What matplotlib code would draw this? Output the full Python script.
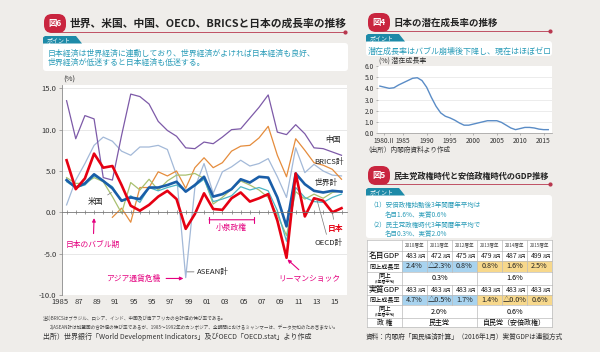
import matplotlib
matplotlib.use('Agg')
import matplotlib.pyplot as plt
import numpy as np
from matplotlib.patches import FancyBboxPatch, Polygon, Rectangle

plt.rcParams['font.family'] = ['Noto Sans CJK JP', 'DejaVu Sans']

# ---- 図6 data (%), 1985-2015
years = list(range(1985, 2016))
china = [13.5, 8.9, 11.7, 11.3, 4.2, 3.9, 9.3, 14.3, 14.0, 13.1, 11.0, 9.9, 9.2, 7.8, 7.7, 8.5,
         8.3, 9.1, 10.0, 10.1, 11.4, 12.7, 14.2, 9.7, 9.4, 10.6, 9.5, 7.8, 7.7, 7.3, 6.9]
brics = [np.nan] * 5 + [-0.6, 0.5, -1.2, 3.0, 3.0, 4.9, 4.4, 5.0, 2.9, 5.4, 6.6, 5.4, 6.0, 7.4,
                        8.0, 8.1, 9.0, 10.4, 6.9, 4.3, 8.9, 7.5, 6.0, 5.7, 5.2, 4.0]
asean = [0.9, 3.9, 5.9, 8.1, 9.1, 8.6, 7.4, 6.9, 7.9, 7.9, 8.1, 7.6, 4.5, -7.9, 3.0, 5.9,
         2.3, 4.9, 5.5, 6.3, 5.6, 5.9, 6.5, 4.3, 1.8, 7.8, 4.8, 5.8, 5.0, 4.5, 4.4]
usa = [4.2, 3.5, 3.5, 4.2, 3.7, 1.9, -0.1, 3.6, 2.7, 4.0, 2.7, 3.8, 4.5, 4.5, 4.7, 4.1,
       1.0, 1.8, 2.8, 3.8, 3.3, 2.7, 1.8, -0.3, -2.8, 2.5, 1.6, 2.2, 1.7, 2.4, 2.6]
oecd = [3.7, 3.0, 3.3, 4.4, 3.8, 3.1, 1.3, 2.0, 1.2, 3.0, 2.6, 3.0, 3.3, 2.6, 3.2, 4.0,
        1.3, 1.6, 2.0, 3.1, 2.7, 3.0, 2.6, 0.2, -3.5, 3.0, 1.8, 1.3, 1.2, 1.8, 2.2]
world = [3.9, 3.0, 3.5, 4.6, 3.8, 2.9, 1.4, 1.8, 1.6, 3.0, 3.0, 3.3, 3.7, 2.5, 3.3, 4.3,
         1.9, 2.2, 2.8, 4.0, 3.6, 4.3, 4.2, 1.8, -1.7, 4.7, 3.4, 2.6, 2.4, 2.6, 2.5]
japan = [6.3, 2.8, 4.1, 7.1, 5.4, 5.6, 3.3, 0.8, 0.2, 0.9, 1.9, 2.6, 1.6, -2.0, -0.2, 2.3,
         0.4, 0.3, 1.7, 2.4, 1.3, 1.7, 2.2, -1.0, -5.5, 4.7, -0.5, 1.7, 1.4, 0.0, 0.5]
xtick_years = list(range(1985, 2016, 2))
xtick_labels = ['1985', '87', '89', '91', '95', '95', '97', '99', '01', '03', '05', '07',
                '09', '11', '13', '15']

# ---- 図4 data: 潜在成長率
pot_years = list(range(1980, 2017))
pot_rate = [4.2, 4.1, 4.0, 4.05, 4.3, 4.5, 4.7, 4.9, 4.95, 4.7, 4.1, 3.2, 2.4, 1.8, 1.5,
            1.35, 1.15, 0.9, 0.7, 0.7, 0.8, 0.9, 1.0, 1.1, 1.1, 1.1, 0.95, 0.7, 0.45, 0.3,
            0.4, 0.5, 0.5, 0.45, 0.35, 0.3, 0.3]
pot_ticks = [1980.9, 1985, 1990, 1995, 2000, 2005, 2010, 2015]
pot_labels = ['1980.II', '1985', '1990', '1995', '2000', '2005', '2010', '2015']

# ---- 図5 table
tbl_years = ['2010暦年', '2011暦年', '2012暦年', '2013暦年', '2014暦年', '2015暦年']
nominal_gdp = ['483', '472', '475', '479', '487', '499']
nominal_growth = ['2.4%', '△2.3%', '0.8%', '0.8%', '1.6%', '2.5%']
nominal_avg = ['0.3%', '1.6%']
real_gdp = ['483', '483', '483', '483', '483', '483']
real_growth = ['4.7%', '△0.5%', '1.7%', '1.4%', '△0.0%', '0.6%']
real_avg = ['2.0%', '0.6%']
parties = ['民主党', '自民党（安倍政権）']

RED = '#c9253f'
TEAL = '#2a9cb8'
MAG = '#e4007f'

fig = plt.figure(figsize=(6.0, 3.52), dpi=100)
fig.patch.set_facecolor('#efedea')


def box(x, y, w, h):
    return [x / 600, 1 - (y + h) / 352, w / 600, h / 352]


ax0 = fig.add_axes([0, 0, 1, 1])
ax0.set_xlim(0, 600)
ax0.set_ylim(352, 0)
ax0.axis('off')


def header(x0, x1, y, num, title, fs):
    ax0.plot([x0 + 8, x1], [y + 8, y + 8], color='#b8374e', lw=0.6)
    ax0.plot(x1, y + 8, 'o', ms=2, color='#b8374e')
    ax0.add_patch(FancyBboxPatch((x0, y - 10), 22, 19,
                                 boxstyle='round,pad=0,rounding_size=8', fc=RED, ec='none'))
    ax0.text(x0 + 11, y - 0.5, num, color='white', fontsize=6, fontweight='bold',
             ha='center', va='center')
    ax0.text(x0 + 26, y, title, fontsize=fs, fontweight='bold', ha='left', va='center',
             color='#222222')


def point(x0, y0, x1, y1, lines, fs, dy):
    ax0.add_patch(FancyBboxPatch((x0, y0 + 7), x1 - x0, y1 - y0 - 7,
                                 boxstyle='round,pad=0,rounding_size=3', fc='white', ec='none'))
    ax0.add_patch(Polygon([(x0, y0 + 7.5), (x0, y0 + 1.5), (x0 + 2, y0), (x0 + 33, y0),
                           (x0 + 39, y0 + 7.5)], closed=True, fc='#1d8aa8', ec='none'))
    ax0.text(x0 + 4, y0 + 4, 'ポイント', color='white', fontsize=4.3, va='center', ha='left')
    for i, ln in enumerate(lines):
        ax0.text(ln[0], y0 + 17 + i * dy, ln[1], color=TEAL, fontsize=fs, va='center', ha='left')


# ---- headers
header(44, 345, 24, '図6', '世界、米国、中国、OECD、BRICSと日本の成長率の推移', 7.75)
point(43, 36, 348, 71, [(48, '日本経済は世界経済に連動しており、世界経済がよければ日本経済も良好、'),
                        (48, '世界経済が低迷すると日本経済も低迷する。')], 5.7, 9)
header(368, 550, 23, '図4', '日本の潜在成長率の推移', 6.8)
point(366, 34, 552, 56, [(368, '潜在成長率はバブル崩壊後下降し、現在はほぼゼロ')], 5.8, 9)
header(368, 550, 176, '図5', '民主党政権時代と安倍政権時代のGDP推移', 5.9)
point(366, 188, 552, 238, [(369, '（1）安倍政権始動後3年間暦年平均は'),
                           (385, '名目1.6%、実質0.6%'),
                           (369, '（2）民主党政権時代3年間暦年平均で'),
                           (385, '名目0.3%、実質2.0%')], 4.7, 9.8)

# ---- 図6 chart
ax = fig.add_axes(box(62, 85, 285, 210))
ax.set_facecolor('white')
ax.set_xlim(1984.5, 2015.6)
ax.set_ylim(-10, 15.4)
for v in [15, 10, 5, -5]:
    ax.axhline(v, color='#e4e4e4', lw=0.6, zorder=0)
ax.plot(years, asean, color='#a3b9d8', lw=0.9)
ax.plot(years, brics, color='#e58c3c', lw=0.9)
ax.plot(years, china, color='#7d5aa8', lw=0.9)
ax.plot(years, usa, color='#a9c070', lw=0.9)
ax.plot(years, oecd, color='#4db5c4', lw=0.9)
ax.plot(years, world, color='#1a5ea8', lw=1.9)
ax.plot(years, japan, color='#e60012', lw=1.9)
ax.spines['top'].set_visible(False)
ax.spines['right'].set_visible(False)
ax.spines['left'].set_color('#888888')
ax.spines['left'].set_linewidth(0.6)
ax.spines['bottom'].set_position(('data', 0))
ax.spines['bottom'].set_color('#777777')
ax.spines['bottom'].set_linewidth(0.6)
ax.set_xticks(years)
ax.tick_params(axis='x', direction='inout', length=3, width=0.5, color='#777777',
               labelbottom=False)
ax.set_yticks([15, 10, 5, 0, -5, -10])
ax.set_yticklabels(['15.0', '10.0', '5.0', '0.0', '-5.0', '-10.0'])
ax.tick_params(axis='y', length=2.5, width=0.5, color='#888888', labelsize=5.5,
               labelcolor='#333333', pad=1.5)
for yr, lab in zip(xtick_years, xtick_labels):
    ax.text(yr - 0.7, -10.4, lab, ha='center', va='top', fontsize=5.5, color='#333333')
ax.text(1984.6, 15.6, '(%)', fontsize=5.5, color='#333333', ha='left', va='bottom')

ann = dict(fontsize=5.6, ha='center', va='center')
ax.annotate('米国', xy=(1989.9, 2.4), xytext=(1988.2, 1.2), color='#222222',
            arrowprops=dict(arrowstyle='-', color='#777777', lw=0.5, shrinkA=1, shrinkB=0), **ann)
ax.annotate('日本のバブル期', xy=(1988.0, -0.7), xytext=(1987.9, -3.9), color=MAG,
            arrowprops=dict(arrowstyle='-|>', color=MAG, lw=0.8, mutation_scale=5,
                            shrinkA=3, shrinkB=0), **ann)
ax.annotate('アジア通貨危機', xy=(1997.75, -8.0), xytext=(1992.3, -8.0), color=MAG,
            arrowprops=dict(arrowstyle='-|>', color=MAG, lw=0.8, mutation_scale=5,
                            shrinkA=2, shrinkB=0), **ann)
ax.annotate('ASEAN計', xy=(1998.15, -7.2), xytext=(1999.2, -7.2), color='#222222',
            fontsize=5.6, ha='left', va='center',
            arrowprops=dict(arrowstyle='-', color='#777777', lw=0.6, shrinkA=0, shrinkB=0))
ax.annotate('', xy=(2000.55, -0.9), xytext=(2005.45, -0.9),
            arrowprops=dict(arrowstyle='|-|,widthA=0.2,widthB=0.2', color=MAG, lw=0.8,
                            shrinkA=0, shrinkB=0))
ax.text(2003.0, -1.9, '小泉政権', color=MAG, **ann)
ax.annotate('リーマンショック', xy=(2009.1, -5.7), xytext=(2011.5, -8.1), color=MAG,
            arrowprops=dict(arrowstyle='-|>', color=MAG, lw=0.8, mutation_scale=5,
                            shrinkA=3, shrinkB=0), **ann)
ax.text(2014.1, 8.7, '中国', color='#222222', **ann)
ax.text(2013.6, 6.1, 'BRICS計', color='#222222', **ann)
ax.text(2013.3, 3.6, '世界計', color='#222222', **ann)
ax.annotate('日本', xy=(2014.0, 0.0), xytext=(2014.3, -1.9), color='#e60012',
            fontweight='bold',
            arrowprops=dict(arrowstyle='-', color='#777777', lw=0.5, shrinkA=1, shrinkB=0), **ann)
ax.annotate('OECD計', xy=(2012.3, 1.6), xytext=(2013.6, -3.65), color='#222222',
            arrowprops=dict(arrowstyle='-', color='#777777', lw=0.5, shrinkA=1, shrinkB=0), **ann)

ax0.text(43, 318, '注1)BRICSはブラジル、ロシア、インド、中国及び南アフリカの合計値の伸び率である。',
         fontsize=3.3, color='#444444', va='center')
ax0.text(50, 327, '2)ASEAN計は加盟国の合計値の伸び率であるが、1985～1992年のカンボジア、'
         '全期間におけるミャンマーは、データ欠如のため含まない。',
         fontsize=3.3, color='#444444', va='center')
ax0.text(43, 337, '出所）世界銀行「World Development Indicators」及びOECD「OECD.stat」より作成',
         fontsize=5.0, color='#333333', va='center')

# ---- 図4 chart
ax4 = fig.add_axes(box(378, 66, 174, 67))
ax4.set_facecolor('white')
ax4.set_xlim(1979.6, 2016.8)
ax4.set_ylim(0, 6)
for v in [1, 2, 3, 4, 5]:
    ax4.axhline(v, color='#e4e4e4', lw=0.5, zorder=0)
ax4.plot(pot_years, pot_rate, color='#5a8cc6', lw=1.0)
for s in ['top', 'right', 'left']:
    ax4.spines[s].set_visible(False)
ax4.spines['bottom'].set_color('#999999')
ax4.spines['bottom'].set_linewidth(0.5)
ax4.set_yticks([0, 1, 2, 3, 4, 5, 6])
ax4.set_yticklabels(['0.0', '1.0', '2.0', '3.0', '4.0', '5.0', '6.0'])
ax4.set_xticks(pot_ticks)
ax4.set_xticklabels(pot_labels)
ax4.tick_params(axis='both', length=1.5, width=0.5, color='#999999', labelsize=4.8,
                labelcolor='#333333', pad=1.5)
ax4.text(1979.8, 6.1, '(%) 潜在成長率', fontsize=5.0, color='#333333', ha='left', va='bottom')
ax0.text(364, 150, '（出所）内閣府資料より作成', fontsize=4.8, color='#333333', va='center')

# ---- 図5 table
cols = [367, 402, 427, 452, 477, 502, 527, 552]
rows = [240, 251, 261, 272, 285, 295, 305, 318, 327]
ax0.add_patch(Rectangle((cols[0], rows[0]), cols[-1] - cols[0], rows[-1] - rows[0],
                        fc='white', ec='none'))
for r in (2, 5):
    for c in range(6):
        fc = '#a8d3ef' if c < 3 else '#f7d88c'
        ax0.add_patch(Rectangle((cols[c + 1], rows[r]), cols[c + 2] - cols[c + 1],
                                rows[r + 1] - rows[r], fc=fc, ec='none'))
gc = '#bbbbbb'
for y in rows:
    ax0.plot([cols[0], cols[-1]], [y, y], color=gc, lw=0.5)
for r in range(len(rows) - 1):
    xs = cols if r in (0, 1, 2, 4, 5) else [cols[0], cols[1], cols[4], cols[7]]
    for x in xs:
        ax0.plot([x, x], [rows[r], rows[r + 1]], color=gc, lw=0.5)


def cx(c):
    return (cols[c + 1] + cols[c + 2]) / 2


def cy(r):
    return (rows[r] + rows[r + 1]) / 2


lab_x = (cols[0] + cols[1]) / 2
for c, t in enumerate(tbl_years):
    ax0.text(cx(c), cy(0), t, fontsize=3.3, ha='center', va='center', color='#444444')
for r, vals in ((1, nominal_gdp), (4, real_gdp)):
    for c, v in enumerate(vals):
        ax0.text(cx(c) + 3, cy(r), v, fontsize=5.0, ha='right', va='center', color='#222222')
        ax0.text(cx(c) + 3, cy(r) + 0.5, '兆円', fontsize=3.0, ha='left', va='center',
                 color='#222222')
for r, vals in ((2, nominal_growth), (5, real_growth)):
    for c, v in enumerate(vals):
        ax0.text(cx(c), cy(r), v, fontsize=5.2, ha='center', va='center', color='#222222')
for r, vals in ((3, nominal_avg), (6, real_avg)):
    ax0.text((cols[1] + cols[4]) / 2, cy(r), vals[0], fontsize=5.2, ha='center', va='center')
    ax0.text((cols[4] + cols[7]) / 2, cy(r), vals[1], fontsize=5.2, ha='center', va='center')
    ax0.text(lab_x, cy(r) - 2.2, '同上', fontsize=4.6, ha='center', va='center')
    ax0.text(lab_x, cy(r) + 3.2, '(3年暦平均)', fontsize=2.8, ha='center', va='center')
ax0.text((cols[1] + cols[4]) / 2, cy(7), parties[0], fontsize=5.0, ha='center', va='center')
ax0.text((cols[4] + cols[7]) / 2, cy(7), parties[1], fontsize=5.0, ha='center', va='center')
ax0.text(lab_x, cy(1), '名目GDP', fontsize=5.6, ha='center', va='center')
ax0.text(lab_x, cy(2), '同上成長率', fontsize=4.4, ha='center', va='center')
ax0.text(lab_x, cy(4), '実質GDP', fontsize=5.6, ha='center', va='center')
ax0.text(lab_x, cy(5), '同上成長率', fontsize=4.4, ha='center', va='center')
ax0.text(lab_x, cy(7), '政 権', fontsize=5.0, ha='center', va='center')
ax0.text(366, 337, '資料：内閣府「国民経済計算」（2016年1月）実質GDPは連鎖方式',
         fontsize=4.8, color='#333333', va='center')

fig.savefig('out.png', dpi=100, facecolor=fig.get_facecolor())
